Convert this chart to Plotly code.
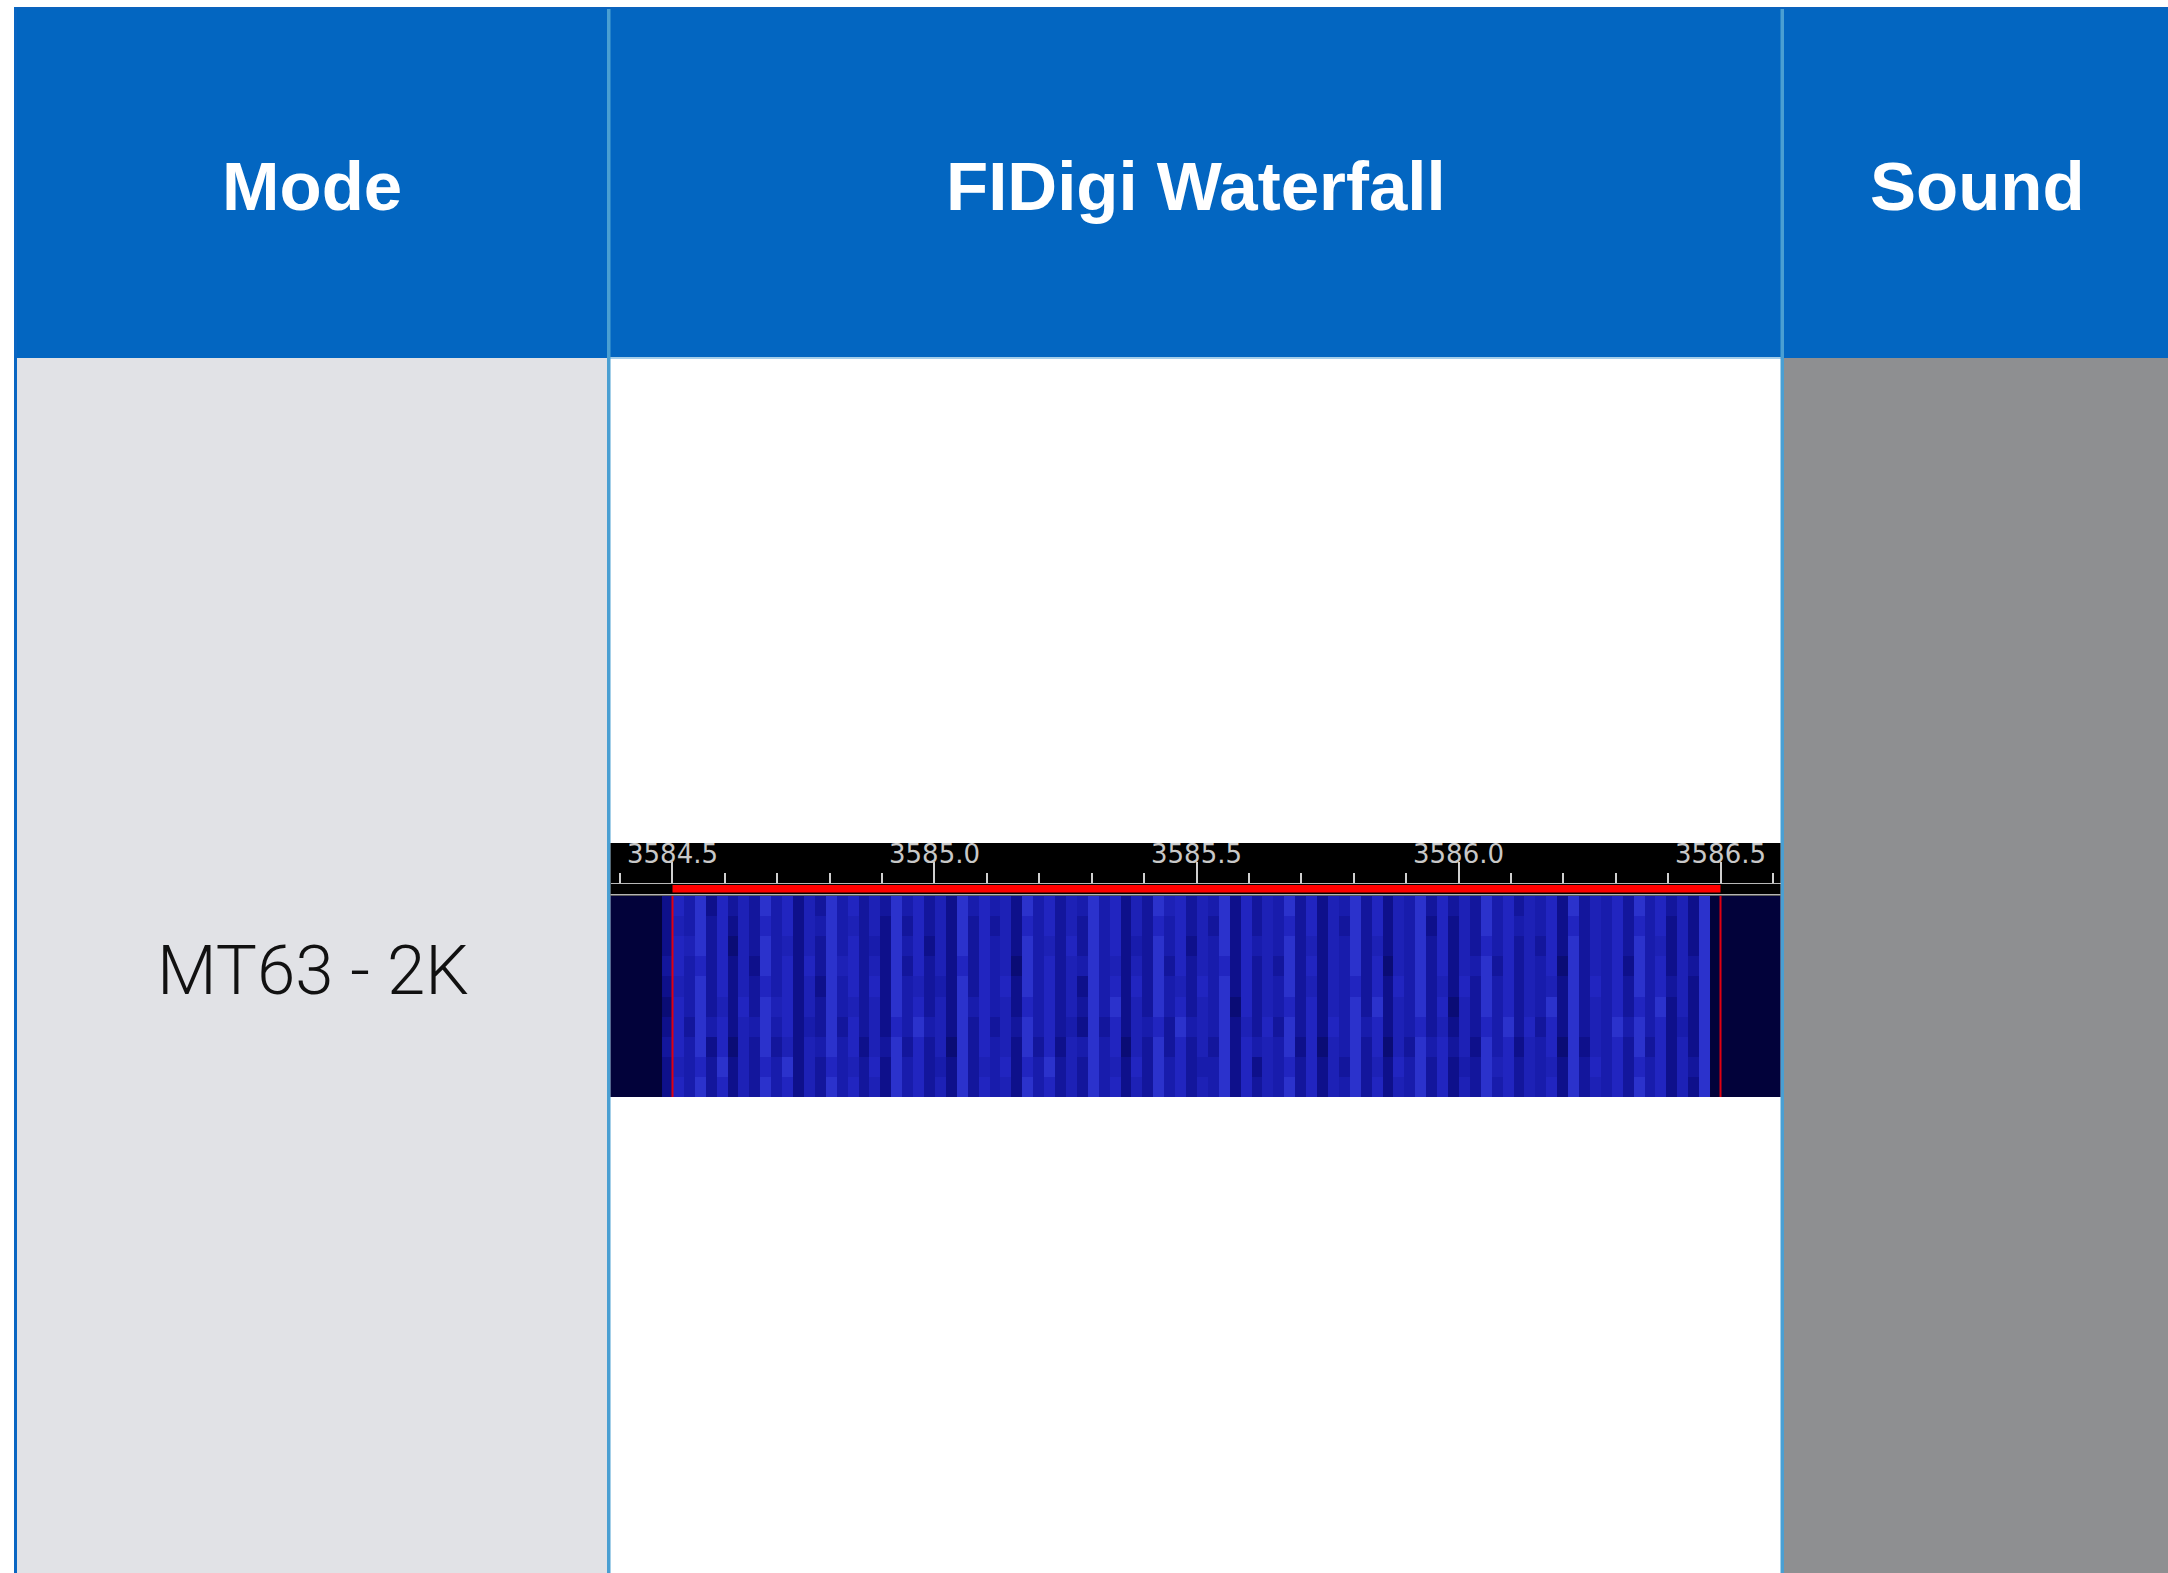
import plotly.graph_objects as go

# ---------------- data ----------------
columns = ["Mode", "FIDigi Waterfall", "Sound"]
rows = ["MT63 - 2K"]

freq_range = [3584.3817, 3586.6145]   # visible span of the waterfall (MHz)
bandwidth = [3584.5, 3586.5]          # red bandwidth markers (MHz)
signal_start = 3584.48                # start of the received signal (MHz)
signal_width = 2.0                    # width of the received signal (MHz)

# waterfall intensity grid (0-9)
waterfall_rows = [
    "37584736 48573648 57463857 46384756 38574648 57364857 46583746 58473658 47365847 36485746 57384657 48573638",
    "36574836 47583647 56473857 45384657 37584648 56374857 45583736 57473648 46375847 35486746 56384757 47573648",
    "47583726 48463658 57364847 46284756 38473658 57264847 46483756 58372658 47264857 46385736 57283657 48473638",
    "37485736 58573548 47463758 56384746 48574538 47365748 56583647 48473758 57365746 36475847 47384658 58573538",
    "27584637 48673648 56463857 46385756 37574648 58364857 46582746 57473658 48365847 26485746 58384657 47583638",
    "36584736 47573638 57473856 45384757 38574638 57374856 47583746 58463657 47375846 37485746 56384757 48574638",
    "47574736 38573748 67463847 46374756 28574658 56364847 46573746 48473658 47265847 36584746 57284657 38573648",
    "37684726 48563648 57453857 36384756 38564748 57354857 36583756 58463658 46365847 36475746 47384657 48563638",
    "36584736 47573658 56463847 46384746 37574648 57364757 46483746 57473648 47365837 36485756 57374657 47573638",
    "37583746 48573648 57464857 46385756 38574658 57364867 46583746 58473658 47365847 46485746 57384657 48574638",
]
z = [[int(c) for c in r.replace(" ", "")] for r in waterfall_rows]
ncols = len(z[0])

# ---------------- geometry helpers ----------------
W, H = 2168, 1573
def X(px):
    return px / W
def Y(py):
    return 1 - py / H

HEADER_BLUE = "#0366C1"
DIVIDER = "#4A9FD2"

fig = go.Figure()

fig.add_trace(go.Heatmap(
    z=z,
    x0=signal_start + signal_width / ncols / 2, dx=signal_width / ncols,
    y0=0.5, dy=1,
    zmin=0, zmax=9,
    colorscale=[[0, "#050545"], [0.3, "#0c0e86"], [0.55, "#181cac"], [0.8, "#2226c2"], [1, "#3640d8"]],
    showscale=False, hoverinfo="skip", xaxis="x", yaxis="y",
))
# invisible trace for the tick strip axis
fig.add_trace(go.Scatter(x=freq_range, y=[0.5, 0.5], mode="lines",
                         line=dict(width=0, color="rgba(0,0,0,0)"),
                         hoverinfo="skip", showlegend=False, xaxis="x2", yaxis="y2"))

shapes = []
def rect(x0, y0, x1, y1, color, layer="below"):
    shapes.append(dict(type="rect", xref="paper", yref="paper",
                       x0=X(x0), x1=X(x1), y0=Y(y1), y1=Y(y0),
                       fillcolor=color, line=dict(width=0), layer=layer))

# table backgrounds
rect(16, 7, W + 2, 358, HEADER_BLUE)
rect(16, 7, W + 2, 9, "#0b63bd")
rect(17, 358, 608, H + 2, "#E1E2E6")
rect(610, 358, 1781, H + 2, "#FFFFFF")
rect(1783, 358, W + 2, H + 2, "#8E8F91")
rect(610, 357, 1781, 359, "#a6cfea")
rect(14, 7, 17, H + 2, "#0a66c2")
rect(607, 9, 610.5, H + 2, DIVIDER)
rect(1780.5, 9, 1784, H + 2, DIVIDER)

# waterfall backgrounds
rect(610.5, 843, 1780.5, 896, "#000000")
rect(610.5, 894, 1780.5, 895.5, "#b4b4b4")
rect(610.5, 896, 1780.5, 1097, "#02023a")

# red bandwidth bar and markers
shapes.append(dict(type="rect", xref="x2", yref="paper", x0=bandwidth[0], x1=bandwidth[1],
                   y0=Y(892.5), y1=Y(885), fillcolor="#ff0000", line=dict(width=0), layer="above"))
for f in bandwidth:
    shapes.append(dict(type="line", xref="x", yref="paper", x0=f, x1=f,
                       y0=Y(1097), y1=Y(896), line=dict(color="#e00010", width=2), layer="above"))

fig.update_layout(shapes=shapes)

annotations = []
header_x = [(16 + 608) / 2, (610 + 1781) / 2, (1783 + 2172) / 2]
for name, cx in zip(columns, header_x):
    annotations.append(dict(text=f"<b>{name}</b>", x=X(cx), y=Y(187), xref="paper", yref="paper",
                            showarrow=False, xanchor="center", yanchor="middle",
                            font=dict(family="Liberation Sans, Arial, sans-serif", size=69, color="#FFFFFF")))
annotations.append(dict(text=rows[0], x=X(313), y=Y(971), xref="paper", yref="paper",
                        showarrow=False, xanchor="center", yanchor="middle",
                        font=dict(family="Roboto, Liberation Sans, sans-serif", size=69,
                                  color="#111111", weight=300)))

fig.update_layout(
    width=W, height=H,
    margin=dict(l=0, r=0, t=0, b=0),
    paper_bgcolor="#FFFFFF",
    plot_bgcolor="rgba(0,0,0,0)",
    showlegend=False,
    annotations=annotations,
    xaxis=dict(domain=[X(610.5), X(1780.5)], range=freq_range, anchor="y",
               visible=False, fixedrange=True),
    yaxis=dict(domain=[Y(1097), Y(896)], range=[0, len(z)], anchor="x",
               visible=False, fixedrange=True),
    xaxis2=dict(domain=[X(610.5), X(1780.5)], range=freq_range, anchor="y2", side="top",
                showline=True, linecolor="#b8b8b8", linewidth=1,
                ticks="outside", ticklen=21, tickwidth=2, tickcolor="#cfcfcf",
                tick0=3584.5, dtick=0.5, tickformat=".1f",
                ticklabelstandoff=-12,
                tickfont=dict(family="DejaVu Sans", size=26, color="#c8c8c8"),
                minor=dict(ticks="outside", ticklen=10, tickwidth=2, tickcolor="#cfcfcf",
                           dtick=0.1, showgrid=False),
                showgrid=False, zeroline=False, fixedrange=True),
    yaxis2=dict(domain=[Y(894), Y(883.5)], range=[0, 1], anchor="x2",
                visible=False, fixedrange=True),
)

fig.write_html("out.html", config={"displayModeBar": False},
               post_script="document.body.style.margin='0';document.body.style.overflow='hidden';")
